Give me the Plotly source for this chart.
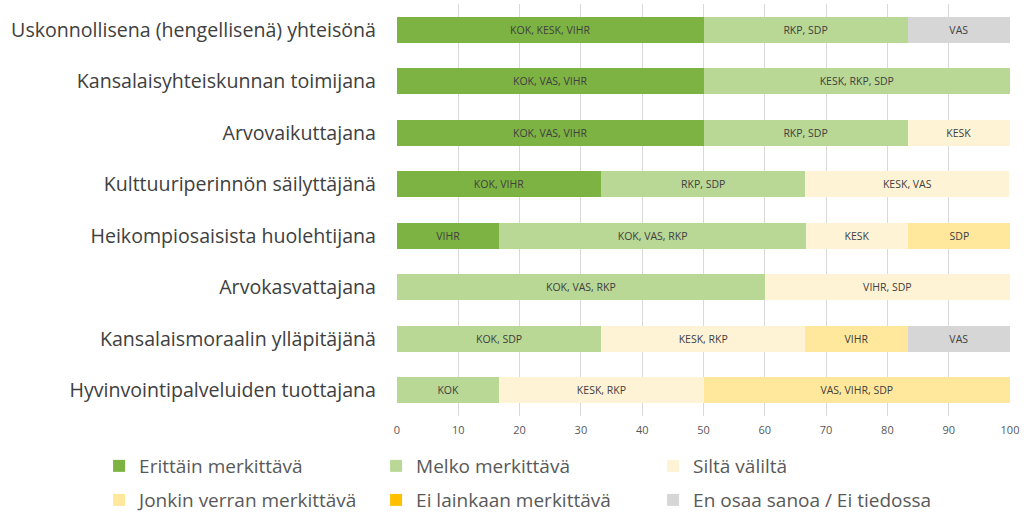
import plotly.graph_objects as go

categories = [
    "Uskonnollisena (hengellisenä) yhteisönä",
    "Kansalaisyhteiskunnan toimijana",
    "Arvovaikuttajana",
    "Kulttuuriperinnön säilyttäjänä",
    "Heikompiosaisista huolehtijana",
    "Arvokasvattajana",
    "Kansalaismoraalin ylläpitäjänä",
    "Hyvinvointipalveluiden tuottajana",
]

series_names = [
    "Erittäin merkittävä",
    "Melko merkittävä",
    "Siltä väliltä",
    "Jonkin verran merkittävä",
    "Ei lainkaan merkittävä",
    "En osaa sanoa / Ei tiedossa",
]

erittain = [50, 50, 50, 33.3, 16.7, 0, 0, 0]
melko = [33.3, 50, 33.3, 33.3, 50, 60, 33.3, 16.7]
silta = [0, 0, 16.7, 33.3, 16.7, 40, 33.3, 33.3]
jonkin = [0, 0, 0, 0, 16.7, 0, 16.7, 50]
ei_lainkaan = [0, 0, 0, 0, 0, 0, 0, 0]
en_osaa = [16.7, 0, 0, 0, 0, 0, 16.7, 0]

erittain_lbl = ["KOK, KESK, VIHR", "KOK, VAS, VIHR", "KOK, VAS, VIHR", "KOK, VIHR", "VIHR", "", "", ""]
melko_lbl = ["RKP, SDP", "KESK, RKP, SDP", "RKP, SDP", "RKP, SDP", "KOK, VAS, RKP", "KOK, VAS, RKP", "KOK, SDP", "KOK"]
silta_lbl = ["", "", "KESK", "KESK, VAS", "KESK", "VIHR, SDP", "KESK, RKP", "KESK, RKP"]
jonkin_lbl = ["", "", "", "", "SDP", "", "VIHR", "VAS, VIHR, SDP"]
ei_lainkaan_lbl = ["", "", "", "", "", "", "", ""]
en_osaa_lbl = ["VAS", "", "", "", "", "", "VAS", ""]

x_ticks = [0, 10, 20, 30, 40, 50, 60, 70, 80, 90, 100]

colors = ["#7db343", "#b9d795", "#fff3d6", "#ffe79b", "#ffc000", "#d6d6d6"]

values = [erittain, melko, silta, jonkin, ei_lainkaan, en_osaa]
labels = [erittain_lbl, melko_lbl, silta_lbl, jonkin_lbl, ei_lainkaan_lbl, en_osaa_lbl]

FONT = "Open Sans"

fig = go.Figure()
for i, (name, vals, lbls, col) in enumerate(zip(series_names, values, labels, colors)):
    fig.add_trace(go.Bar(
        name=name,
        y=categories,
        x=vals,
        orientation="h",
        marker=dict(color=col, line=dict(width=0)),
        text=lbls,
        textposition="inside",
        insidetextanchor="middle",
        textangle=0,
        textfont=dict(family=FONT, size=10.5, color="#404040"),
        legend="legend" if i < 3 else "legend2",
        hoverinfo="x+y+name",
    ))

legend_common = dict(
    orientation="h",
    traceorder="normal",
    xanchor="left",
    yanchor="middle",
    font=dict(family=FONT, size=19, color="#595959"),
    entrywidth=232,
    entrywidthmode="pixels",
    bgcolor="rgba(0,0,0,0)",
    itemclick=False,
    itemdoubleclick=False,
)

fig.update_layout(
    width=1032,
    height=513,
    barmode="stack",
    bargap=0.49,
    plot_bgcolor="white",
    paper_bgcolor="white",
    margin=dict(l=397, r=22, t=4, b=97, pad=0, autoexpand=False),
    font=dict(family=FONT, color="#404040"),
    uniformtext=dict(mode="show", minsize=9),
    xaxis=dict(
        range=[0, 100],
        tickvals=x_ticks,
        ticktext=[str(t) for t in x_ticks],
        showgrid=True,
        gridcolor="#d9d9d9",
        gridwidth=1,
        zeroline=False,
        showline=False,
        tickfont=dict(family=FONT, size=11, color="#595959"),
        ticks="",
        ticklabelstandoff=6,
        fixedrange=True,
    ),
    yaxis=dict(
        autorange="reversed",
        showgrid=False,
        showline=False,
        ticks="",
        tickfont=dict(family=FONT, size=19.6, color="#404040"),
        ticklabelstandoff=20,
        fixedrange=True,
    ),
    legend=dict(x=-0.486, y=-0.1214, **legend_common),
    legend2=dict(x=-0.486, y=-0.204, **legend_common),
)

fig.write_html(
    "out.html",
    config={"displayModeBar": False},
    post_script="document.body.style.margin='0';document.body.style.padding='0';",
)
